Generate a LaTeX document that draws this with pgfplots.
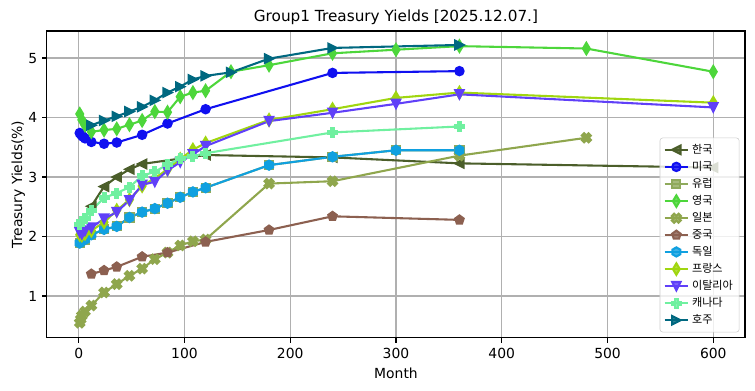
\documentclass[border=0pt]{standalone}
\usepackage{fontspec}
\setmainfont{DejaVu Sans}
\newfontfamily\cjk{Noto Sans CJK KR}
\usepackage{pgfplots}
\pgfplotsset{compat=1.18}

\definecolor{cKR}{RGB}{75,94,42}
\definecolor{cUS}{RGB}{16,16,240}
\definecolor{cEU}{RGB}{143,170,92}
\definecolor{cUK}{RGB}{77,214,59}
\definecolor{cJP}{RGB}{143,166,77}
\definecolor{cCN}{RGB}{140,96,80}
\definecolor{cDE}{RGB}{16,160,224}
\definecolor{cFR}{RGB}{160,214,16}
\definecolor{cIT}{RGB}{96,64,248}
\definecolor{cCA}{RGB}{112,240,160}
\definecolor{cAU}{RGB}{0,104,128}

\pgfdeclareplotmark{mtri}{%
  \pgfpathmoveto{\pgfqpoint{0pt}{\pgfplotmarksize}}%
  \pgfpathlineto{\pgfqpoint{-\pgfplotmarksize}{-\pgfplotmarksize}}%
  \pgfpathlineto{\pgfqpoint{\pgfplotmarksize}{-\pgfplotmarksize}}%
  \pgfpathclose\pgfusepathqfillstroke}
\pgfdeclareplotmark{hex}{%
  \pgfpathmoveto{\pgfpointpolar{90}{\pgfplotmarksize}}%
  \pgfpathlineto{\pgfpointpolar{150}{\pgfplotmarksize}}%
  \pgfpathlineto{\pgfpointpolar{210}{\pgfplotmarksize}}%
  \pgfpathlineto{\pgfpointpolar{270}{\pgfplotmarksize}}%
  \pgfpathlineto{\pgfpointpolar{330}{\pgfplotmarksize}}%
  \pgfpathlineto{\pgfpointpolar{30}{\pgfplotmarksize}}%
  \pgfpathclose\pgfusepathqfillstroke}
\pgfdeclareplotmark{pplus}{%
  \pgfpathmoveto{\pgfqpoint{0.333\pgfplotmarksize}{\pgfplotmarksize}}%
  \pgfpathlineto{\pgfqpoint{0.333\pgfplotmarksize}{0.333\pgfplotmarksize}}%
  \pgfpathlineto{\pgfqpoint{\pgfplotmarksize}{0.333\pgfplotmarksize}}%
  \pgfpathlineto{\pgfqpoint{\pgfplotmarksize}{-0.333\pgfplotmarksize}}%
  \pgfpathlineto{\pgfqpoint{0.333\pgfplotmarksize}{-0.333\pgfplotmarksize}}%
  \pgfpathlineto{\pgfqpoint{0.333\pgfplotmarksize}{-\pgfplotmarksize}}%
  \pgfpathlineto{\pgfqpoint{-0.333\pgfplotmarksize}{-\pgfplotmarksize}}%
  \pgfpathlineto{\pgfqpoint{-0.333\pgfplotmarksize}{-0.333\pgfplotmarksize}}%
  \pgfpathlineto{\pgfqpoint{-\pgfplotmarksize}{-0.333\pgfplotmarksize}}%
  \pgfpathlineto{\pgfqpoint{-\pgfplotmarksize}{0.333\pgfplotmarksize}}%
  \pgfpathlineto{\pgfqpoint{-0.333\pgfplotmarksize}{0.333\pgfplotmarksize}}%
  \pgfpathlineto{\pgfqpoint{-0.333\pgfplotmarksize}{\pgfplotmarksize}}%
  \pgfpathclose\pgfusepathqfillstroke}

\begin{document}
\begin{tikzpicture}
\begin{axis}[
  name=ax,
  scale only axis,
  width=502.6pt, height=221pt,
  xmin=-30, xmax=630, ymin=0.296, ymax=5.455,
  xtick={0,100,...,600}, ytick={1,2,3,4,5},
  tick pos=left,
  grid=major,
  grid style={color=black!31, line width=0.8pt},
  axis line style={line width=0.8pt},
  tick align=outside,
  major tick length=3.5pt,
  tick style={black, line width=0.8pt},
  ticklabel style={font=\fontsize{10}{12}\selectfont},
  /pgf/number format/assume math mode=true,
  xlabel={Month},
  ylabel={Treasury Yields(\%)},
  label style={font=\fontsize{10}{12}\selectfont},
  ylabel style={yshift=-4.5pt},
  title={Group1 Treasury Yields [2025.12.07.]},
  title style={at={(0.5,1)}, anchor=base, yshift=0.5pt, font=\fontsize{11}{13}\selectfont},
  every axis plot/.append style={line width=1.5pt},
  every mark/.append style={solid, line width=1pt},
  legend style={at={(1,0)}, anchor=south east, xshift=-4pt, yshift=4pt,
    font=\cjk\fontsize{8}{9.6}\selectfont, draw=black!20, fill=white,
    fill opacity=0.8, text opacity=1, draw opacity=1, rounded corners=2pt,
    row sep=0.2pt, inner sep=2.5pt},
  legend cell align=left,
]
% Korea
\addplot[color=cKR, mark=mtri, mark size=3pt, mark options={rotate=90}] coordinates {
(12,2.51)(24,2.84)(36,3.00)(48,3.13)(60,3.22)(120,3.37)(240,3.33)(360,3.23)(600,3.16)};
\addlegendentry{한국}
% USA
\addplot[color=cUS, mark=*, mark size=3pt] coordinates {
(1,3.74)(2,3.72)(3,3.70)(4,3.68)(6,3.65)(12,3.59)(24,3.56)(36,3.58)(60,3.71)(84,3.90)(120,4.14)(240,4.75)(360,4.78)};
\addlegendentry{미국}
% Europe
\addplot[color=cEU, mark=square*, mark size=2.9pt] coordinates {
(1,1.89)(6,1.95)(12,2.03)(24,2.12)(36,2.17)(48,2.32)(60,2.41)(72,2.47)(84,2.56)(96,2.66)(108,2.75)(120,2.82)(180,3.20)(240,3.34)(300,3.45)(360,3.45)};
\addlegendentry{유럽}
% UK
\addplot[color=cUK, mark=diamond*, mark size=4.1pt, mark options={xscale=0.8}] coordinates {
(1,4.06)(3,3.96)(6,3.87)(12,3.76)(24,3.79)(36,3.81)(48,3.88)(60,3.95)(72,4.10)(84,4.09)(96,4.35)(108,4.42)(120,4.45)(144,4.77)(180,4.88)(240,5.08)(300,5.14)(360,5.20)(480,5.16)(600,4.77)};
\addlegendentry{영국}
% Japan
\addplot[color=cJP, mark=pplus, mark size=3.4pt, mark options={rotate=45}] coordinates {
(1,0.55)(2,0.61)(3,0.67)(6,0.74)(12,0.84)(24,1.06)(36,1.20)(48,1.34)(60,1.46)(72,1.62)(84,1.73)(96,1.85)(108,1.92)(120,1.95)(180,2.89)(240,2.93)(360,3.36)(480,3.66)};
\addlegendentry{일본}
% China
\addplot[color=cCN, mark=pentagon*, mark size=3.2pt] coordinates {
(12,1.37)(24,1.43)(36,1.49)(60,1.66)(84,1.73)(120,1.91)(180,2.11)(240,2.34)(360,2.28)};
\addlegendentry{중국}
% Germany
\addplot[color=cDE, mark=hex, mark size=3.3pt] coordinates {
(1,1.89)(6,1.95)(12,2.03)(24,2.12)(36,2.17)(48,2.32)(60,2.41)(72,2.47)(84,2.56)(96,2.66)(108,2.75)(120,2.82)(180,3.20)(240,3.34)(300,3.45)(360,3.45)};
\addlegendentry{독일}
% France
\addplot[color=cFR, mark=diamond*, mark size=4.1pt, mark options={xscale=0.8}] coordinates {
(1,2.03)(3,2.02)(6,2.05)(12,2.10)(24,2.24)(36,2.44)(48,2.62)(60,2.85)(72,2.98)(84,3.13)(96,3.30)(108,3.46)(120,3.57)(180,3.96)(240,4.14)(300,4.33)(360,4.42)(600,4.25)};
\addlegendentry{프랑스}
% Italy
\addplot[color=cIT, mark=mtri, mark size=3pt, mark options={rotate=180}] coordinates {
(1,2.07)(3,2.04)(6,2.10)(12,2.15)(24,2.30)(36,2.41)(48,2.61)(60,2.87)(72,2.92)(84,3.11)(96,3.25)(108,3.38)(120,3.52)(180,3.94)(240,4.08)(300,4.23)(360,4.39)(600,4.17)};
\addlegendentry{이탈리아}
% Canada
\addplot[color=cCA, mark=pplus, mark size=3.2pt] coordinates {
(1,2.21)(3,2.25)(6,2.31)(12,2.44)(24,2.65)(36,2.73)(48,2.83)(60,3.02)(72,3.09)(84,3.21)(96,3.31)(108,3.35)(120,3.40)(240,3.75)(360,3.85)};
\addlegendentry{캐나다}
% Australia
\addplot[color=cAU, mark=mtri, mark size=3pt, mark options={rotate=-90}] coordinates {
(12,3.87)(24,3.95)(36,4.02)(48,4.10)(60,4.18)(72,4.29)(84,4.42)(96,4.52)(108,4.64)(120,4.70)(144,4.76)(180,4.99)(240,5.17)(360,5.22)};
\addlegendentry{호주}
\end{axis}
\pgfresetboundingbox
\path ([shift={(-33.8pt,-38.2pt)}]ax.south west) rectangle ([shift={(7.2pt,22.3pt)}]ax.north east);
\end{tikzpicture}
\end{document}
